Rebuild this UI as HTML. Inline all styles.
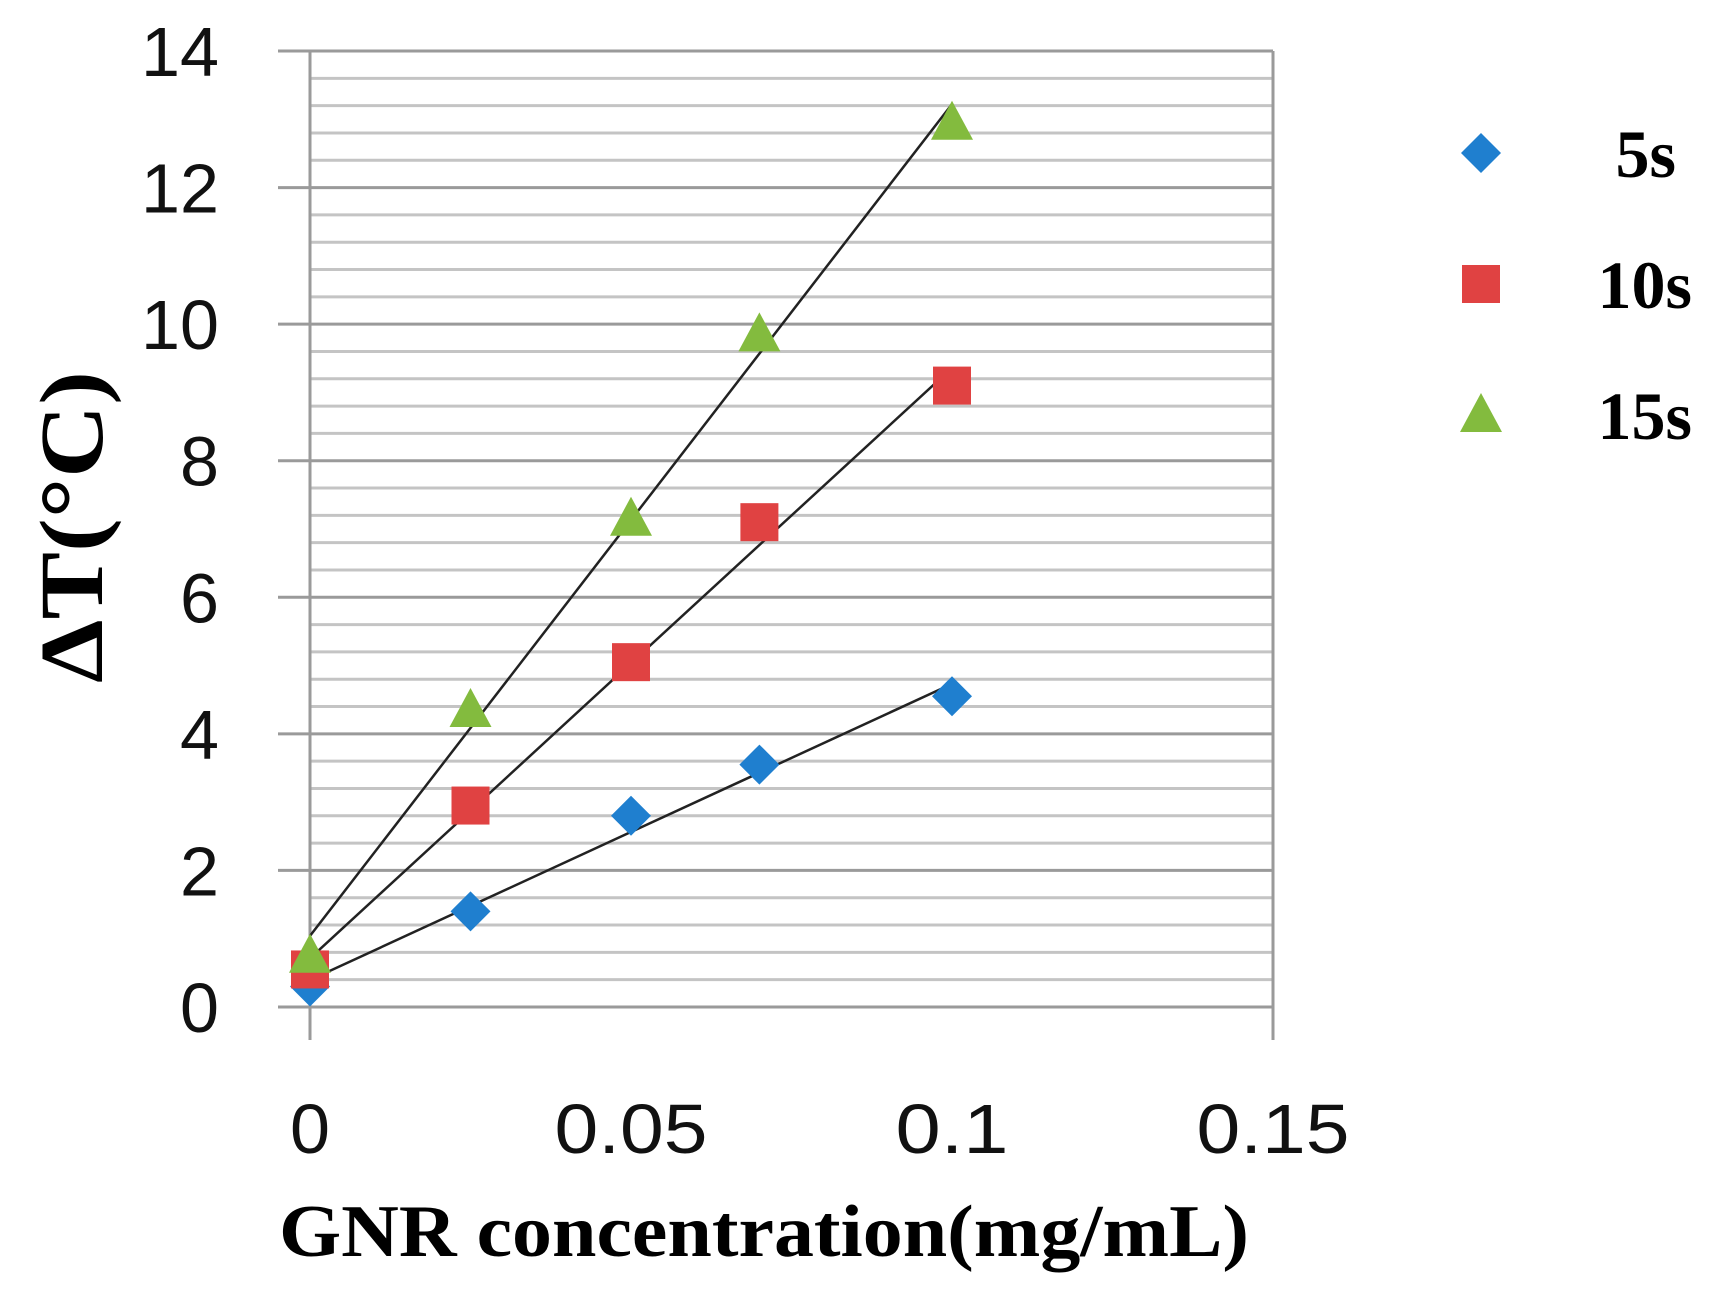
<!DOCTYPE html>
<html><head><meta charset="utf-8"><style>
html,body{margin:0;padding:0;background:#fff;}
svg{display:block;}
</style></head><body>
<svg id="chart" width="1711" height="1291" viewBox="0 0 1711 1291" xmlns="http://www.w3.org/2000/svg">
<g id="grid"></g>
<g id="axes"></g>
<g id="trends"></g>
<g id="marks"></g>
<g id="legend"></g>
<text x="764" y="1256" text-anchor="middle" font-family="Liberation Serif, serif" font-weight="bold" font-size="74" textLength="970" lengthAdjust="spacingAndGlyphs">GNR concentration(mg/mL)</text>
<text transform="translate(102,527) rotate(-90)" text-anchor="middle" font-family="Liberation Serif, serif" font-weight="bold" font-size="90" textLength="312" lengthAdjust="spacingAndGlyphs">ΔT(°C)</text>
</svg>
<script>
const xs = [0, 0.025, 0.05, 0.07, 0.1];
const s5 = [0.3, 1.4, 2.8, 3.55, 4.55];
const s10 = [0.55, 2.95, 5.05, 7.1, 9.1];
const s15 = [0.75, 4.35, 7.15, 9.85, 12.95];
const seriesNames = ['5s', '10s', '15s'];
const yTicks = [0, 2, 4, 6, 8, 10, 12, 14];
const xTicks = [0, 0.05, 0.1, 0.15];
const xTickLabels = ['0', '0.05', '0.1', '0.15'];

const NS = 'http://www.w3.org/2000/svg';
const X0 = 310, X1 = 1273, Y0 = 1007, Y1 = 51;
const xS = v => X0 + (v - 0) / 0.15 * (X1 - X0);
const yS = v => Y0 - v / 14 * (Y0 - Y1);
function mk(tag, attrs, parent) {
  const e = document.createElementNS(NS, tag);
  for (const k in attrs) e.setAttribute(k, attrs[k]);
  parent.appendChild(e);
  return e;
}
const grid = document.getElementById('grid');
const axes = document.getElementById('axes');
for (let i = 0; i <= 35; i++) {
  const v = i * 0.4;
  if (i % 5 === 0) continue;
  const l = mk('line', {x1: X0, x2: X1, y1: yS(v), y2: yS(v), stroke: '#c4c4c4', 'stroke-width': 3}, grid);
  
  
}
yTicks.forEach(v => {
  const l = mk('line', {x1: X0 - 32, x2: X1, y1: yS(v), y2: yS(v), stroke: '#9a9a9a', 'stroke-width': 3}, grid);
  
  
  const s = String(v);
  const t = mk('text', {x: 219, y: yS(v) + 25, 'text-anchor': 'end', 'font-family': 'Liberation Sans, sans-serif', 'font-size': 70, fill: '#111', textLength: s.length * 39, lengthAdjust: 'spacingAndGlyphs'}, axes);
  t.textContent = s;
  
  
});
[0, 0.15].forEach(v => {
  const l = mk('line', {x1: xS(v), x2: xS(v), y1: Y1, y2: Y0 + 33, stroke: '#9a9a9a', 'stroke-width': 3}, axes);
  
  
});
xTicks.forEach((v, i) => {
  const s = xTickLabels[i];
  const w = s.replace('.', '').length * 40 + (s.indexOf('.') >= 0 ? 33 : 0);
  const t = mk('text', {x: xS(v), y: 1153, 'text-anchor': 'middle', 'font-family': 'Liberation Sans, sans-serif', 'font-size': 70, fill: '#111', textLength: w, lengthAdjust: 'spacingAndGlyphs'}, axes);
  t.textContent = s;
  
  
});
const colors = ['#1f7fcf', '#e04242', '#83bb3e'];
const data = [s5, s10, s15];
const trends = document.getElementById('trends');
const marks = document.getElementById('marks');
function marker(kind, cx, cy, color, parent) {
  let e;
  if (kind === 0) e = mk('polygon', {points: `${cx},${cy-20} ${cx+20},${cy} ${cx},${cy+20} ${cx-20},${cy}`, fill: color}, parent);
  else if (kind === 1) e = mk('rect', {x: cx-19, y: cy-19, width: 38, height: 38, fill: color}, parent);
  else e = mk('polygon', {points: `${cx},${cy-22} ${cx+21},${cy+17} ${cx-21},${cy+17}`, fill: color}, parent);
  return e;
}
data.forEach((ys, si) => {
  const n = xs.length;
  const mx = xs.reduce((a, b) => a + b) / n, my = ys.reduce((a, b) => a + b) / n;
  let sxy = 0, sxx = 0;
  xs.forEach((x, i) => { sxy += (x - mx) * (ys[i] - my); sxx += (x - mx) * (x - mx); });
  const b = sxy / sxx, a = my - b * mx;
  ys.forEach((y, i) => {
    const m = marker(si, xS(xs[i]), yS(y), colors[si], marks);
    
    
  });
  const l = mk('line', {x1: xS(0), y1: yS(a), x2: xS(0.1), y2: yS(a + b * 0.1), stroke: '#222', 'stroke-width': 2.5}, trends);
  
  
});
const legend = document.getElementById('legend');
const legendRight = [1676, 1692, 1692];
seriesNames.forEach((name, i) => {
  const cy = 153 + i * 131;
  const m = marker(i, 1481, cy, colors[i], legend);
  
  
  const t = mk('text', {x: legendRight[i], y: cy + 24, 'text-anchor': 'end', 'font-family': 'Liberation Serif, serif', 'font-weight': 'bold', 'font-size': 68}, legend);
  t.textContent = name;
  
  
});
</script>
</body></html>
